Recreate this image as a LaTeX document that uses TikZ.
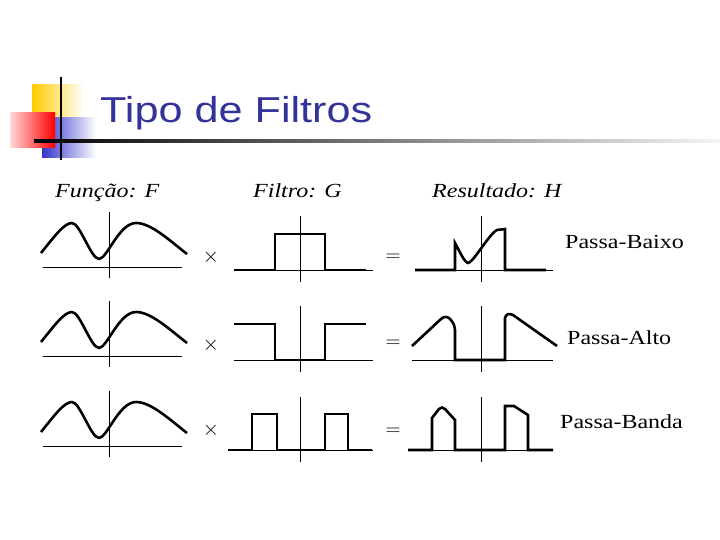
\documentclass[tikz,border=0pt]{standalone}
\usepackage{graphicx}
\usepackage{fontspec}
\setmainfont{Liberation Serif}
\newfontfamily\titulofonte{Liberation Sans}
\usepackage{tikz}
\definecolor{titulo}{HTML}{333399}
\definecolor{amarelo}{HTML}{FFCC00}
\definecolor{azul}{HTML}{3333CC}
\definecolor{vermelho}{HTML}{FF0000}
\tikzset{
  sinal/.style={line width=2.6pt, line join=miter, draw=black},
  curva/.style={line width=2.6pt, line join=round, draw=black},
  eixo/.style={line width=0.9pt, draw=black},
  rotulo/.style={font=\fontsize{20}{24}\selectfont, inner sep=0pt},
  cabec/.style={font=\fontsize{20}{24}\selectfont\itshape, inner sep=0pt, anchor=base west},
  tipo/.style={font=\fontsize{20}{24}\selectfont, inner sep=0pt, anchor=base west},
}

\begin{document}
\begin{tikzpicture}[x=1pt,y=-1pt]
    \useasboundingbox (0,0) rectangle (720,540);
    \fill[white] (0,0) rectangle (720,540);
    % marcador do titulo
    \shade[left color=amarelo, middle color=amarelo, right color=white] (32,85) rectangle (84,122);
    \shade[left color=azul, middle color=azul, right color=white] (42,118) rectangle (96,158);
    \shade[left color=vermelho!15, middle color=vermelho!60, right color=vermelho] (10,113) rectangle (55,148);
    \draw[line width=2.8pt] (61,77) -- (61,160);
    \shade[left color=black, right color=gray!8] (34,139.8) rectangle (720,142.2);
    \node[anchor=base west, inner sep=0pt, text=titulo, font=\titulofonte\fontsize{36}{40}\selectfont]
      (titulo) at (100,123) {\scalebox{1.2}[1]{Tipo de Filtros}};

    \node[cabec] (cabF) at (55,197) {\scalebox{1.2}[1]{Função: F}};
    \node[cabec] (cabG) at (253,197) {\scalebox{1.2}[1]{Filtro: G}};
    \node[cabec] (cabH) at (432,197) {\scalebox{1.2}[1]{Resultado: H}};

    % funcao F
    \foreach \dy in {0,89,179} {
      \begin{scope}[shift={(109,267+\dy)}]
        \draw[eixo] (-66,0) -- (73,0);
        \draw[eixo] (0,-55) -- (0,11);
        \draw[curva] (-68,-14) .. controls (-55,-30) and (-45,-44) .. (-37,-44)
          .. controls (-29,-44) and (-18,-8) .. (-10,-8)
          .. controls (-2,-8) and (10,-44) .. (27,-44)
          .. controls (42,-44) and (60,-27) .. (78,-13);
      \end{scope}
    }

    \foreach \y/\i in {257/1,345/2,430/3}
      \node[rotulo] (vezes\i) at (211,\y) {$\times$};
    \foreach \y/\i in {258/1,344/2,432/3}
      \node[rotulo] (igual\i) at (393,\y) {$=$};

    % filtros G
    \begin{scope}[shift={(300,270)}]
      \draw[eixo] (-66,0) -- (73,0);
      \draw[eixo] (0,-54) -- (0,12);
      \draw[sinal] (-66,0) -- (-25,0) -- (-25,-36) -- (25,-36) -- (25,0) -- (66,0);
    \end{scope}
    \begin{scope}[shift={(300,360)}]
      \draw[eixo] (-66,0) -- (73,0);
      \draw[eixo] (0,-54) -- (0,12);
      \draw[sinal] (-66,-36) -- (-25,-36) -- (-25,0) -- (25,0) -- (25,-36) -- (66,-36);
    \end{scope}
    \begin{scope}[shift={(300,450)}]
      \draw[eixo] (-72,0) -- (73,0);
      \draw[eixo] (0,-53) -- (0,12);
      \draw[sinal] (-72,0) -- (-48,0) -- (-48,-36) -- (-23,-36) -- (-23,0) -- (25,0)
        -- (25,-36) -- (48,-36) -- (48,0) -- (72,0);
    \end{scope}

    % resultados H
    \begin{scope}[shift={(481,270)}]
      \draw[eixo] (-66,0) -- (72,0);
      \draw[eixo] (0,-54) -- (0,12);
      \draw[sinal] (-66,0) -- (-26,0) -- (-26,-27)
        .. controls (-22,-20) and (-17,-8) .. (-13,-7)
        .. controls (-8,-7) and (8,-36) .. (16,-40) -- (24,-41) -- (24,0) -- (65,0);
    \end{scope}
    \begin{scope}[shift={(481,360)}]
      \draw[eixo] (-69,0) -- (72,0);
      \draw[eixo] (0,-54) -- (0,12);
      \draw[sinal] (-69,-14) -- (-40,-41) .. controls (-37,-44) and (-33,-44) .. (-30,-40)
        .. controls (-27,-36) and (-26,-33) .. (-26,-30) -- (-26,0) -- (24,0) -- (24,-42)
        .. controls (25,-46) and (28,-47) .. (32,-45) -- (76,-14);
    \end{scope}
    \begin{scope}[shift={(481,450)}]
      \draw[eixo] (-73,0) -- (72,0);
      \draw[eixo] (0,-53) -- (0,12);
      \draw[sinal] (-73,0) -- (-49,0) -- (-49,-32) -- (-42,-41)
        .. controls (-40,-43) and (-38,-43) .. (-36,-41) -- (-26,-30) -- (-26,0) -- (24,0)
        -- (24,-44) -- (33,-44) -- (47,-35) -- (47,0) -- (72,0);
    \end{scope}

    \node[tipo] (baixo) at (565,248) {\scalebox{1.2}[1]{Passa-Baixo}};
    \node[tipo] (alto) at (567,344) {\scalebox{1.2}[1]{Passa-Alto}};
    \node[tipo] (banda) at (560,428) {\scalebox{1.2}[1]{Passa-Banda}};
\end{tikzpicture}
\end{document}
